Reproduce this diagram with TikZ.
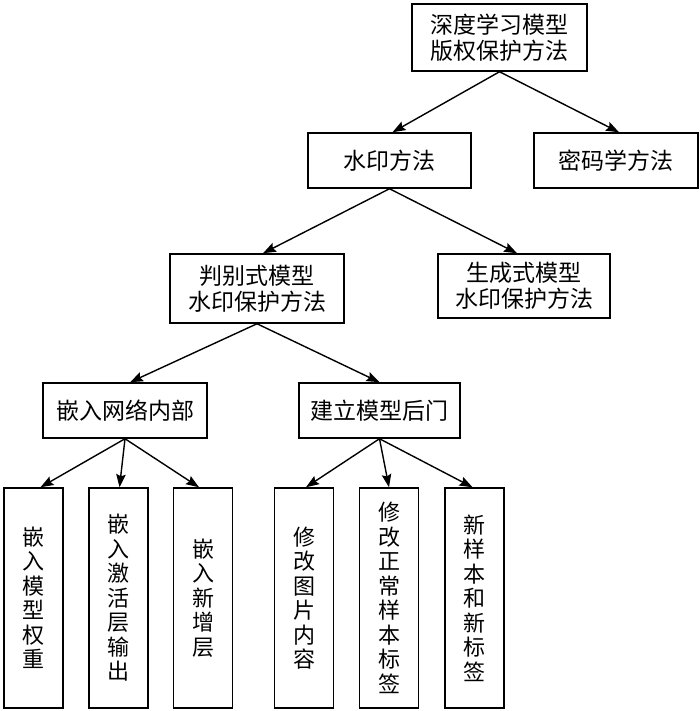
\documentclass[tikz,border=0pt]{standalone}
\usepackage{fontspec}
\newfontfamily\cjk{Noto Sans CJK SC}
\usetikzlibrary{arrows.meta}
\begin{document}
\begin{tikzpicture}[x=1pt,y=-1pt,
  box/.style={draw, line width=1.5pt, font=\cjk\fontsize{23}{26}\selectfont, align=center, inner sep=0pt},
  vbox/.style={box, minimum width=59pt, minimum height=220pt, font=\cjk\fontsize{22}{24.5}\selectfont},
  arr/.style={line width=1.4pt, -{Stealth[length=13pt,width=9.5pt,inset=2pt]}}]
\useasboundingbox (0,0) rectangle (700,711);
\node[box, minimum width=175pt, minimum height=67pt] (root) at (499.5,37.5) {深度学习模型\\版权保护方法};
\node[box, minimum width=163pt, minimum height=55pt] (wm) at (389.5,160.5) {水印方法};
\node[box, minimum width=164pt, minimum height=55pt] (cr) at (616,160.5) {密码学方法};
\node[box, minimum width=174pt, minimum height=69pt] (dis) at (257,288.5) {判别式模型\\水印保护方法};
\node[box, minimum width=172pt, minimum height=64pt] (gen) at (524,286) {生成式模型\\水印保护方法};
\node[box, minimum width=164pt, minimum height=55pt] (emb) at (125,410.5) {嵌入网络内部};
\node[box, minimum width=161pt, minimum height=55pt] (bd) at (379.5,410.5) {建立模型后门};
\node[vbox] (v1) at (33.5,598) {嵌\\入\\模\\型\\权\\重};
\node[vbox] (v2) at (118.5,598) {嵌\\入\\激\\活\\层\\输\\出};
\node[vbox] (v3) at (203,598) {嵌\\入\\新\\增\\层};
\node[vbox] (v4) at (304,598) {修\\改\\图\\片\\内\\容};
\node[vbox] (v5) at (389,598) {修\\改\\正\\常\\样\\本\\标\\签};
\node[vbox] (v6) at (474.5,598) {新\\样\\本\\和\\新\\标\\签};
\draw[arr] (root.south) -- ([xshift=3pt]wm.north);
\draw[arr] (root.south) -- ([xshift=3pt]cr.north);
\draw[arr] (wm.south) -- ([xshift=6pt]dis.north);
\draw[arr] (wm.south) -- ([xshift=-7pt]gen.north);
\draw[arr] (dis.south) -- ([xshift=5pt]emb.north);
\draw[arr] (dis.south) -- (bd.north);
\draw[arr] (emb.south) -- ([xshift=7pt]v1.north);
\draw[arr] (emb.south) -- ([xshift=1pt]v2.north);
\draw[arr] (emb.south) -- ([xshift=-4pt]v3.north);
\draw[arr] (bd.south) -- ([xshift=2pt]v4.north);
\draw[arr] (bd.south) -- (v5.north);
\draw[arr] (bd.south) -- ([xshift=-2pt]v6.north);
\end{tikzpicture}
\end{document}
